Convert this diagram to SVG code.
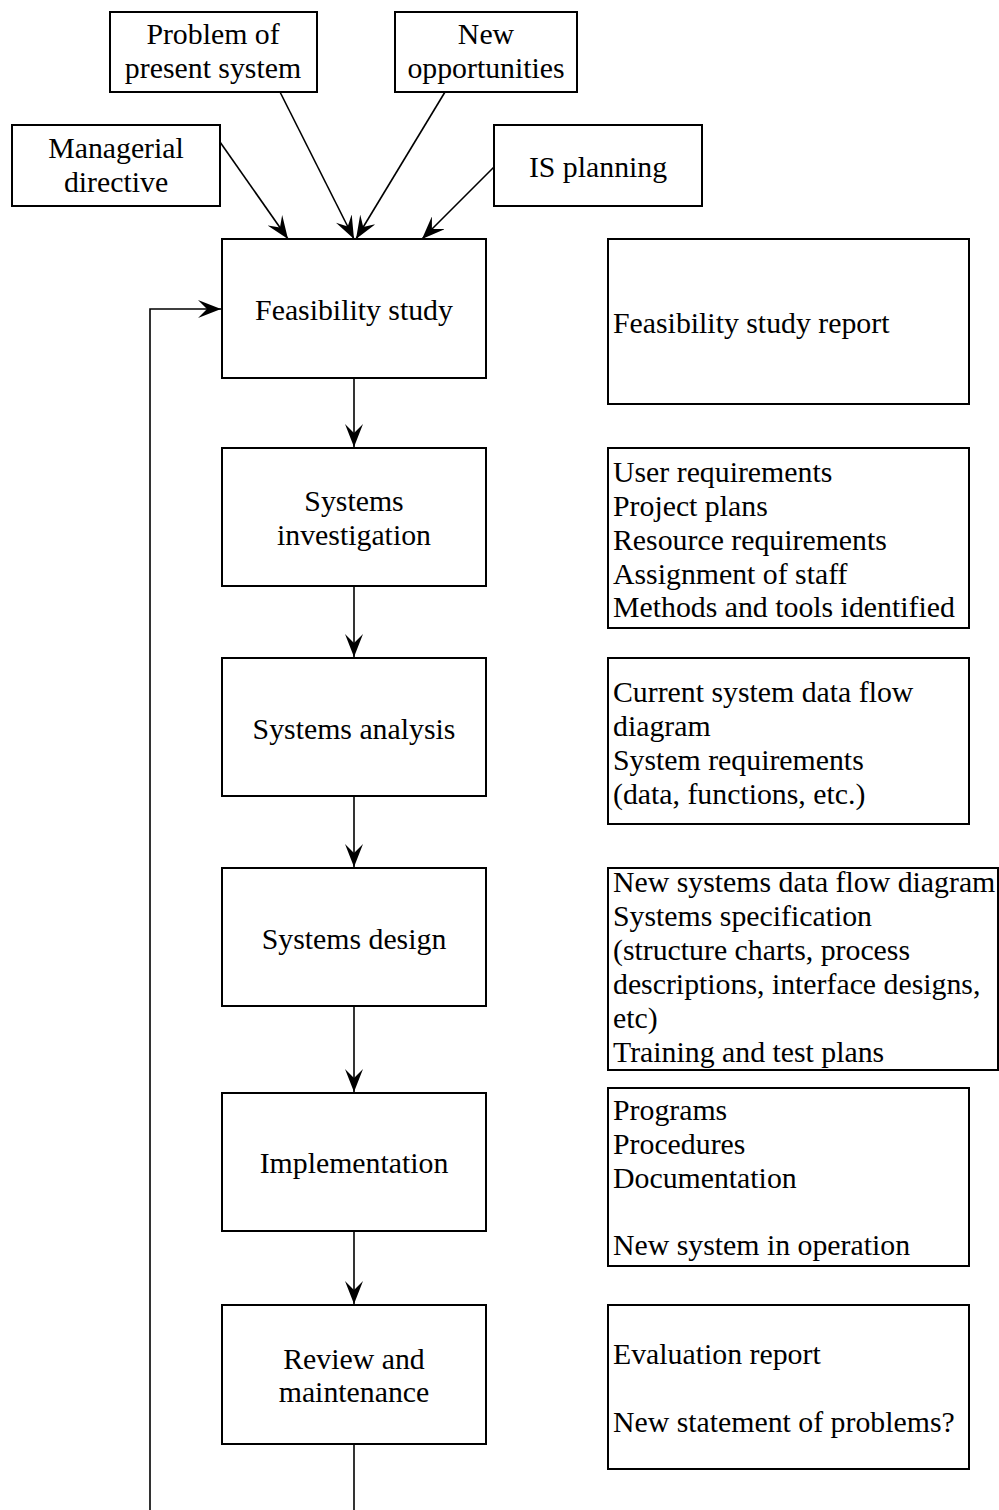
<svg xmlns="http://www.w3.org/2000/svg" width="999" height="1510" viewBox="0 0 999 1510">
<style>
rect{fill:#fff;stroke:#000;stroke-width:2}
text{font-family:"Liberation Serif","Times New Roman",serif;font-size:29.8px;fill:#000}
.c{text-anchor:middle}
.l{text-anchor:start}
.e{fill:none;stroke:#000;stroke-width:1.6}
</style>
<defs>
<marker id="ah" viewBox="0 0 23 18" refX="23" refY="9" markerWidth="23" markerHeight="18" markerUnits="userSpaceOnUse" orient="auto">
<path d="M0,0 L23,9 L0,18 L9,9 Z" fill="#000"/>
</marker>
</defs>
<g id="connectors">
<line class="e" x1="220" y1="142" x2="288" y2="239" marker-end="url(#ah)"/>
<line class="e" x1="280" y1="92" x2="354" y2="239" marker-end="url(#ah)"/>
<line class="e" x1="445" y1="92" x2="356" y2="239" marker-end="url(#ah)"/>
<line class="e" x1="494" y1="167" x2="422" y2="239" marker-end="url(#ah)"/>
<line class="e" x1="354" y1="378" x2="354" y2="447" marker-end="url(#ah)"/>
<line class="e" x1="354" y1="586" x2="354" y2="657" marker-end="url(#ah)"/>
<line class="e" x1="354" y1="796" x2="354" y2="867" marker-end="url(#ah)"/>
<line class="e" x1="354" y1="1006" x2="354" y2="1092" marker-end="url(#ah)"/>
<line class="e" x1="354" y1="1231" x2="354" y2="1304" marker-end="url(#ah)"/>
<line class="e" x1="354" y1="1444" x2="354" y2="1510"/>
<polyline class="e" points="150,1510 150,309 221,309" marker-end="url(#ah)"/>
</g>
<g id="problem"><rect x="110" y="12" width="207" height="80"/><text class="c" x="213" y="44">Problem of</text><text class="c" x="213" y="78">present system</text></g>
<g id="opportunities"><rect x="395" y="12" width="182" height="80"/><text class="c" x="486" y="44">New</text><text class="c" x="486" y="78">opportunities</text></g>
<g id="managerial"><rect x="12" y="125" width="208" height="81"/><text class="c" x="116" y="158">Managerial</text><text class="c" x="116" y="192">directive</text></g>
<g id="isplanning"><rect x="494" y="125" width="208" height="81"/><text class="c" x="598" y="177">IS planning</text></g>
<g id="feasibility"><rect x="222" y="239" width="264" height="139"/><text class="c" x="354" y="320">Feasibility study</text></g>
<g id="feasibility-out"><rect x="608" y="239" width="361" height="165"/><text class="l" x="613" y="333">Feasibility study report</text></g>
<g id="investigation"><rect x="222" y="448" width="264" height="138"/><text class="c" x="354" y="511">Systems</text><text class="c" x="354" y="545">investigation</text></g>
<g id="investigation-out"><rect x="608" y="448" width="361" height="180"/>
<text class="l" x="613" y="482">User requirements</text>
<text class="l" x="613" y="516">Project plans</text>
<text class="l" x="613" y="550">Resource requirements</text>
<text class="l" x="613" y="584">Assignment of staff</text>
<text class="l" x="613" y="617">Methods and tools identified</text></g>
<g id="analysis"><rect x="222" y="658" width="264" height="138"/><text class="c" x="354" y="739">Systems analysis</text></g>
<g id="analysis-out"><rect x="608" y="658" width="361" height="166"/>
<text class="l" x="613" y="702">Current system data flow</text>
<text class="l" x="613" y="736">diagram</text>
<text class="l" x="613" y="770">System requirements</text>
<text class="l" x="613" y="804">(data, functions, etc.)</text></g>
<g id="design"><rect x="222" y="868" width="264" height="138"/><text class="c" x="354" y="949">Systems design</text></g>
<g id="design-out"><rect x="608" y="868" width="390" height="202"/>
<text class="l" x="613" y="892">New systems data flow diagram</text>
<text class="l" x="613" y="926">Systems specification</text>
<text class="l" x="613" y="960">(structure charts, process</text>
<text class="l" x="613" y="994">descriptions, interface designs,</text>
<text class="l" x="613" y="1028">etc)</text>
<text class="l" x="613" y="1062">Training and test plans</text></g>
<g id="implementation"><rect x="222" y="1093" width="264" height="138"/><text class="c" x="354" y="1173">Implementation</text></g>
<g id="implementation-out"><rect x="608" y="1088" width="361" height="178"/>
<text class="l" x="613" y="1120">Programs</text>
<text class="l" x="613" y="1154">Procedures</text>
<text class="l" x="613" y="1188">Documentation</text>
<text class="l" x="613" y="1255">New system in operation</text></g>
<g id="review"><rect x="222" y="1305" width="264" height="139"/><text class="c" x="354" y="1369">Review and</text><text class="c" x="354" y="1402">maintenance</text></g>
<g id="review-out"><rect x="608" y="1305" width="361" height="164"/>
<text class="l" x="613" y="1364">Evaluation report</text>
<text class="l" x="613" y="1432">New statement of problems?</text></g>
</svg>
